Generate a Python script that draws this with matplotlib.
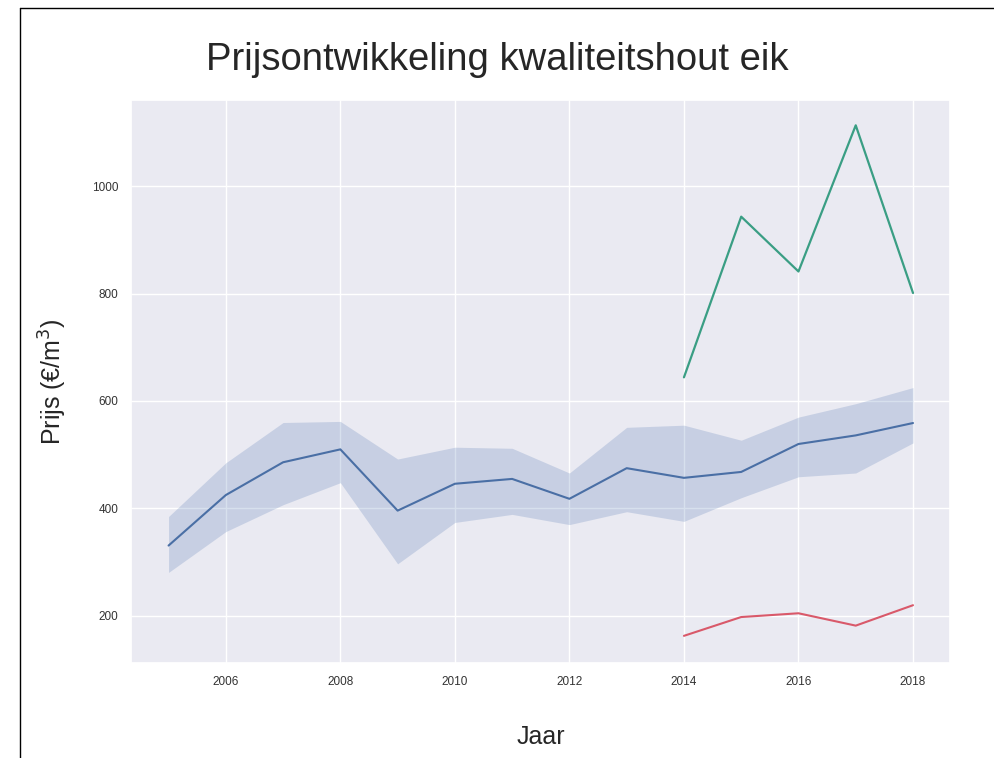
import numpy as np
import matplotlib
matplotlib.use("Agg")
import matplotlib.pyplot as plt
import seaborn as sns
from matplotlib.lines import Line2D

# gemiddelde prijs eik (alle jaren) met onder- en bovengrens van de band
jaren = [2005, 2006, 2007, 2008, 2009, 2010, 2011, 2012, 2013, 2014, 2015, 2016, 2017, 2018]
gemiddeld = [331, 425, 486, 510, 396, 446, 455, 418, 475, 457, 468, 520, 536, 559]
onder = [281, 357, 407, 448, 297, 374, 389, 370, 394, 376, 420, 459, 466, 522]
boven = [385, 485, 560, 562, 492, 514, 512, 466, 551, 555, 527, 570, 595, 625]

# hoogste en laagste klasse vanaf 2014
jaren_kort = [2014, 2015, 2016, 2017, 2018]
hoog = [644, 943, 841, 1113, 801]
laag = [163, 198, 205, 182, 220]

sns.set_theme(style="darkgrid")
plt.rcParams['font.family'] = ['Liberation Sans', 'DejaVu Sans']

fig = plt.figure(figsize=(9.95, 7.58), dpi=100)
ax = fig.add_axes([0.132, 0.125, 0.823, 0.743])

ax.fill_between(jaren, onder, boven, color="#4c72b0", alpha=0.22, linewidth=0)
ax.plot(jaren, gemiddeld, color="#4a6fa5", linewidth=1.5)
ax.plot(jaren_kort, hoog, color="#3a9e84", linewidth=1.6)
ax.plot(jaren_kort, laag, color="#d9596a", linewidth=1.5)

ax.set_xticks([2006, 2008, 2010, 2012, 2014, 2016, 2018])
ax.set_yticks([200, 400, 600, 800, 1000])
ax.set_ylim(112, 1160)
ax.tick_params(labelsize=8.5, colors="#333333")

ax.set_xlabel("Jaar", fontsize=18, labelpad=26)
ax.set_ylabel("Prijs (€/m$^3$)", fontsize=18, labelpad=16)
fig.suptitle("Prijsontwikkeling kwaliteitshout eik", fontsize=27.5, y=0.945)

# zwarte rand boven en links
fig.add_artist(Line2D([0.02, 1.0], [0.99, 0.99], color="black", linewidth=1.0, transform=fig.transFigure))
fig.add_artist(Line2D([0.02, 0.02], [0.0, 0.99], color="black", linewidth=1.0, transform=fig.transFigure))

fig.savefig("out.png", dpi=100)
